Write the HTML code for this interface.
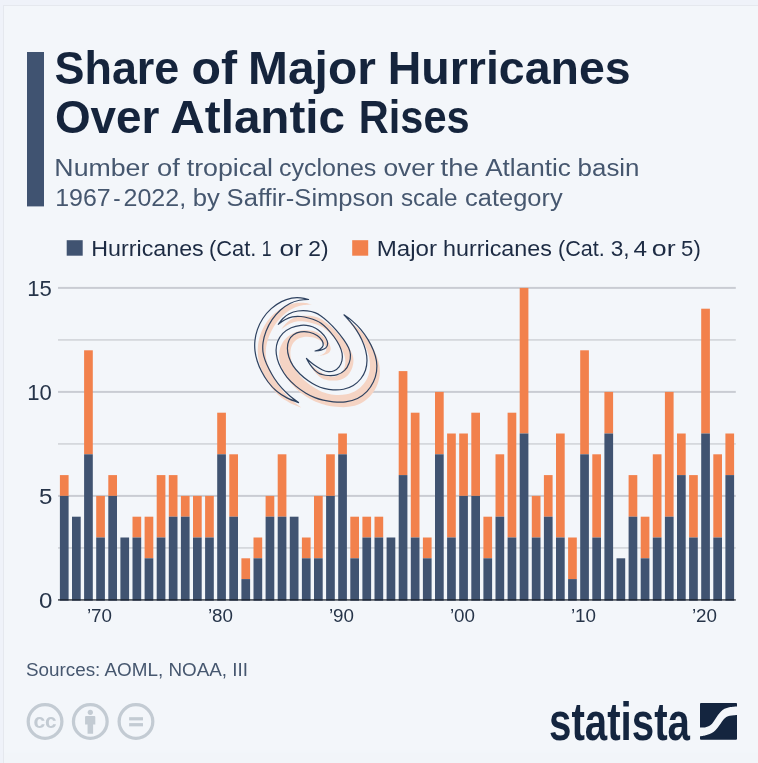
<!DOCTYPE html>
<html><head><meta charset="utf-8"><title>Share of Major Hurricanes Over Atlantic Rises</title>
<style>
html,body{margin:0;padding:0;background:#eff2f9;}
body{width:758px;height:763px;overflow:hidden;font-family:"Liberation Sans",sans-serif;}
svg{display:block;will-change:transform;}
text{font-family:"Liberation Sans",sans-serif;}
</style></head><body>
<svg width="758" height="763" viewBox="0 0 758 763">
<rect x="0" y="0" width="758" height="763" fill="#eff2f9"/>
<rect x="3" y="5" width="755" height="758" fill="#f3f6fa"/>
<rect x="3" y="5" width="755" height="1" fill="#e5e8ee"/>
<rect x="3" y="5" width="1" height="758" fill="#e5e8ee"/>
<rect x="4" y="752.5" width="754" height="10.5" fill="#f2f5f9"/>
<!-- accent bar -->
<rect x="27" y="52" width="17" height="154.4" fill="#405371"/>
<!-- title -->
<g fill="#15243c" font-weight="bold" font-size="45.4">
<text x="54.51" y="83.6" textLength="124.80" lengthAdjust="spacingAndGlyphs">Share</text>
<text x="191.54" y="83.6" textLength="45.55" lengthAdjust="spacingAndGlyphs">of</text>
<text x="248.08" y="83.6" textLength="127.74" lengthAdjust="spacingAndGlyphs">Major</text>
<text x="387.78" y="83.6" textLength="242.91" lengthAdjust="spacingAndGlyphs">Hurricanes</text>
<text x="54.93" y="132.8" textLength="104.56" lengthAdjust="spacingAndGlyphs">Over</text>
<text x="170.39" y="132.8" textLength="174.70" lengthAdjust="spacingAndGlyphs">Atlantic</text>
<text x="358.81" y="132.8" textLength="110.78" lengthAdjust="spacingAndGlyphs">Rises</text>
</g>
<g fill="#46576f" font-size="24.7">
<text x="54.38" y="175.6" textLength="95.00" lengthAdjust="spacingAndGlyphs">Number</text>
<text x="157.04" y="175.6" textLength="22.70" lengthAdjust="spacingAndGlyphs">of</text>
<text x="186.72" y="175.6" textLength="86.34" lengthAdjust="spacingAndGlyphs">tropical</text>
<text x="279.04" y="175.6" textLength="97.27" lengthAdjust="spacingAndGlyphs">cyclones</text>
<text x="383.48" y="175.6" textLength="51.20" lengthAdjust="spacingAndGlyphs">over</text>
<text x="440.61" y="175.6" textLength="38.09" lengthAdjust="spacingAndGlyphs">the</text>
<text x="485.15" y="175.6" textLength="85.74" lengthAdjust="spacingAndGlyphs">Atlantic</text>
<text x="577.62" y="175.6" textLength="61.85" lengthAdjust="spacingAndGlyphs">basin</text>
<text x="55.18" y="206" textLength="55.48" lengthAdjust="spacingAndGlyphs">1967</text>
<text x="113.32" y="206" textLength="7.34" lengthAdjust="spacingAndGlyphs">-</text>
<text x="123.53" y="206" textLength="62.60" lengthAdjust="spacingAndGlyphs">2022,</text>
<text x="192.84" y="206" textLength="27.10" lengthAdjust="spacingAndGlyphs">by</text>
<text x="226.61" y="206" textLength="167.22" lengthAdjust="spacingAndGlyphs">Saffir-Simpson</text>
<text x="401.01" y="206" textLength="56.58" lengthAdjust="spacingAndGlyphs">scale</text>
<text x="465.12" y="206" textLength="97.52" lengthAdjust="spacingAndGlyphs">category</text>
</g>
<!-- legend -->
<rect x="66.7" y="240.2" width="16" height="15.5" fill="#405371"/>
<rect x="352.2" y="240.2" width="16" height="15.5" fill="#f2814c"/>
<g fill="#1d2b43" font-size="22.5">
<text x="91.29" y="255.7" textLength="112.42" lengthAdjust="spacingAndGlyphs">Hurricanes</text>
<text x="209.04" y="255.7" textLength="47.36" lengthAdjust="spacingAndGlyphs">(Cat.</text>
<text x="261.87" y="255.7" textLength="9.80" lengthAdjust="spacingAndGlyphs">1</text>
<text x="279.49" y="255.7" textLength="23.28" lengthAdjust="spacingAndGlyphs">or</text>
<text x="308.23" y="255.7" textLength="20.29" lengthAdjust="spacingAndGlyphs">2)</text>
<text x="376.72" y="255.7" textLength="60.32" lengthAdjust="spacingAndGlyphs">Major</text>
<text x="443.09" y="255.7" textLength="108.84" lengthAdjust="spacingAndGlyphs">hurricanes</text>
<text x="558.06" y="255.7" textLength="46.82" lengthAdjust="spacingAndGlyphs">(Cat.</text>
<text x="610.74" y="255.7" textLength="18.88" lengthAdjust="spacingAndGlyphs">3,</text>
<text x="633.56" y="255.7" textLength="13.56" lengthAdjust="spacingAndGlyphs">4</text>
<text x="651.87" y="255.7" textLength="23.81" lengthAdjust="spacingAndGlyphs">or</text>
<text x="681.12" y="255.7" textLength="19.67" lengthAdjust="spacingAndGlyphs">5)</text>
</g>
<!-- y labels -->
<g fill="#263449" font-size="22.3">
<text x="27.2" y="295.5" textLength="24.6" lengthAdjust="spacingAndGlyphs">15</text>
<text x="27.2" y="399.5" textLength="24.6" lengthAdjust="spacingAndGlyphs">10</text>
<text x="38.9" y="503.5" textLength="13.4" lengthAdjust="spacingAndGlyphs">5</text>
<text x="38.9" y="607.5" textLength="13.4" lengthAdjust="spacingAndGlyphs">0</text>
</g>
<rect x="58" y="547.00" width="677.8" height="1.8" fill="#d5d8dd"/>
<rect x="58" y="494.90" width="677.8" height="2.0" fill="#c9ccd3"/>
<rect x="58" y="443.00" width="677.8" height="1.8" fill="#d5d8dd"/>
<rect x="58" y="390.90" width="677.8" height="2.0" fill="#c9ccd3"/>
<rect x="58" y="339.00" width="677.8" height="1.8" fill="#d5d8dd"/>
<rect x="58" y="286.90" width="677.8" height="2.0" fill="#c9ccd3"/>
<path d="M315.07,351.00C315.07,351.00 319.22,350.64 321.01,350.11C322.80,349.58 324.69,348.93 325.80,347.82C326.91,346.72 327.70,345.16 327.67,343.49C327.65,341.81 326.78,339.64 325.67,337.77C324.56,335.90 322.70,333.86 321.04,332.26C319.37,330.66 317.60,329.24 315.66,328.16C313.71,327.08 311.81,326.26 309.36,325.79C306.91,325.32 303.98,325.04 300.96,325.36C297.94,325.68 294.26,326.37 291.24,327.71C288.22,329.05 285.09,331.10 282.82,333.40C280.56,335.71 278.79,338.71 277.66,341.54C276.53,344.36 276.11,347.43 276.06,350.36C276.01,353.28 276.53,356.12 277.34,359.07C278.16,362.02 279.32,364.99 280.94,368.04C282.56,371.09 284.56,374.33 287.05,377.35C289.54,380.37 292.72,383.52 295.86,386.16C299.01,388.80 302.74,391.28 305.91,393.19C309.08,395.10 312.02,396.47 314.89,397.62C317.76,398.78 320.08,399.45 323.14,400.14C326.19,400.84 329.49,401.51 333.21,401.79C336.94,402.07 341.44,402.37 345.49,401.81C349.53,401.26 353.89,400.20 357.48,398.45C361.07,396.70 364.38,394.12 367.04,391.34C369.71,388.56 371.87,385.10 373.46,381.77C375.05,378.44 376.07,374.82 376.57,371.35C377.07,367.88 376.98,364.45 376.46,360.96C375.94,357.48 374.88,354.01 373.47,350.45C372.06,346.88 370.14,343.11 368.01,339.59C365.89,336.07 363.31,332.41 360.72,329.33C358.13,326.25 355.26,323.52 352.47,321.10C349.68,318.68 343.98,314.80 343.98,314.80L315.07,351.00Z" fill="#f3f6fa" fill-rule="nonzero"/>
<g fill="#f3f6fa"><path d="M308.58,299.50C308.58,299.50 303.49,298.07 300.68,297.84C297.87,297.61 294.91,297.51 291.72,298.14C288.52,298.78 284.92,299.88 281.51,301.63C278.10,303.37 274.36,305.81 271.25,308.62C268.13,311.43 265.12,314.96 262.81,318.47C260.50,321.98 258.69,325.96 257.38,329.66C256.06,333.36 255.34,337.12 254.94,340.66C254.54,344.21 254.61,347.56 254.99,350.94C255.37,354.32 256.12,357.56 257.20,360.95C258.28,364.35 259.69,367.83 261.47,371.30C263.25,374.77 265.38,378.46 267.88,381.75C270.38,385.04 273.28,388.36 276.45,391.05C279.63,393.74 283.25,395.97 286.93,397.89C290.62,399.81 298.55,402.56 298.55,402.56C298.55,402.56 292.72,398.37 289.90,395.94C287.08,393.51 284.21,390.87 281.63,387.96C279.05,385.05 276.55,381.70 274.42,378.50C272.29,375.30 270.43,371.85 268.87,368.78C267.31,365.71 266.04,362.89 265.07,360.08C264.09,357.28 263.32,354.89 262.99,351.96C262.66,349.04 262.57,345.99 263.08,342.53C263.59,339.07 264.54,335.03 266.04,331.22C267.54,327.41 269.68,323.21 272.09,319.67C274.49,316.13 277.51,312.68 280.48,309.97C283.46,307.26 286.79,305.03 289.94,303.41C293.09,301.80 296.30,300.93 299.41,300.28C302.52,299.63 308.58,299.50 308.58,299.50Z"/><path d="M306.46,358.44C306.46,358.44 308.90,362.99 310.26,364.93C311.63,366.86 313.31,368.71 314.65,370.05C316.00,371.39 317.13,372.22 318.32,372.95C319.52,373.67 320.20,373.98 321.81,374.41C323.42,374.84 325.48,375.42 327.96,375.51C330.45,375.60 333.95,375.78 336.73,374.93C339.51,374.08 342.55,372.45 344.63,370.41C346.71,368.37 348.27,365.28 349.24,362.68C350.21,360.09 350.55,357.34 350.45,354.85C350.34,352.37 349.72,350.31 348.59,347.76C347.46,345.21 345.76,342.51 343.68,339.56C341.61,336.61 338.80,333.04 336.16,330.05C333.53,327.06 330.42,323.97 327.89,321.61C325.36,319.26 323.14,317.43 320.97,315.92C318.80,314.41 317.17,313.41 314.87,312.57C312.58,311.72 310.04,311.09 307.21,310.83C304.37,310.57 300.86,310.55 297.87,311.03C294.89,311.50 291.76,312.45 289.28,313.69C286.79,314.93 284.78,316.69 282.95,318.46C281.12,320.22 278.28,324.30 278.28,324.30C278.28,324.30 282.57,321.01 284.92,319.77C287.27,318.52 289.71,317.38 292.39,316.84C295.06,316.30 298.13,316.28 300.97,316.51C303.82,316.75 306.95,317.59 309.46,318.26C311.96,318.92 314.06,319.66 315.99,320.48C317.92,321.30 319.22,321.86 321.04,323.17C322.86,324.48 324.79,326.13 326.92,328.35C329.06,330.58 331.75,333.68 333.83,336.52C335.90,339.37 338.01,342.61 339.39,345.42C340.77,348.23 341.67,350.85 342.10,353.38C342.53,355.91 342.46,358.36 341.96,360.60C341.47,362.84 340.43,365.14 339.12,366.83C337.82,368.51 335.92,369.91 334.13,370.71C332.33,371.51 330.29,371.74 328.36,371.62C326.43,371.50 324.51,370.82 322.55,369.97C320.59,369.13 318.50,367.81 316.58,366.55C314.66,365.29 312.70,363.77 311.02,362.42C309.33,361.07 306.46,358.44 306.46,358.44Z"/><path d="M315.07,351.00C315.07,351.00 319.22,350.64 321.01,350.11C322.80,349.58 324.69,348.93 325.80,347.82C326.91,346.72 327.70,345.16 327.67,343.49C327.65,341.81 326.78,339.64 325.67,337.77C324.56,335.90 322.70,333.86 321.04,332.26C319.37,330.66 317.60,329.24 315.66,328.16C313.71,327.08 311.81,326.26 309.36,325.79C306.91,325.32 303.98,325.04 300.96,325.36C297.94,325.68 294.26,326.37 291.24,327.71C288.22,329.05 285.09,331.10 282.82,333.40C280.56,335.71 278.79,338.71 277.66,341.54C276.53,344.36 276.11,347.43 276.06,350.36C276.01,353.28 276.53,356.12 277.34,359.07C278.16,362.02 279.32,364.99 280.94,368.04C282.56,371.09 284.56,374.33 287.05,377.35C289.54,380.37 292.72,383.52 295.86,386.16C299.01,388.80 302.74,391.28 305.91,393.19C309.08,395.10 312.02,396.47 314.89,397.62C317.76,398.78 320.08,399.45 323.14,400.14C326.19,400.84 329.49,401.51 333.21,401.79C336.94,402.07 341.44,402.37 345.49,401.81C349.53,401.26 353.89,400.20 357.48,398.45C361.07,396.70 364.38,394.12 367.04,391.34C369.71,388.56 371.87,385.10 373.46,381.77C375.05,378.44 376.07,374.82 376.57,371.35C377.07,367.88 376.98,364.45 376.46,360.96C375.94,357.48 374.88,354.01 373.47,350.45C372.06,346.88 370.14,343.11 368.01,339.59C365.89,336.07 363.31,332.41 360.72,329.33C358.13,326.25 355.26,323.52 352.47,321.10C349.68,318.68 343.98,314.80 343.98,314.80C343.98,314.80 348.25,319.38 350.33,321.93C352.40,324.49 354.54,327.17 356.45,330.13C358.36,333.09 360.28,336.37 361.80,339.70C363.32,343.03 364.71,346.64 365.58,350.10C366.44,353.57 367.02,357.14 366.99,360.49C366.97,363.83 366.48,367.14 365.45,370.19C364.42,373.23 362.83,376.20 360.81,378.75C358.78,381.29 356.18,383.70 353.29,385.45C350.41,387.21 346.87,388.51 343.49,389.25C340.10,389.99 336.27,390.04 333.01,389.90C329.75,389.76 326.71,389.15 323.92,388.41C321.12,387.68 318.83,386.78 316.22,385.51C313.61,384.23 310.97,382.67 308.26,380.75C305.55,378.83 302.49,376.46 299.96,373.98C297.44,371.50 294.97,368.68 293.12,365.86C291.27,363.04 289.82,359.99 288.87,357.05C287.92,354.12 287.40,351.01 287.40,348.25C287.40,345.49 287.88,342.73 288.89,340.49C289.90,338.25 291.49,336.24 293.46,334.82C295.43,333.39 298.06,332.37 300.70,331.95C303.34,331.52 306.55,331.67 309.29,332.27C312.03,332.86 314.98,334.15 317.12,335.54C319.26,336.92 321.12,338.91 322.13,340.57C323.13,342.23 323.45,344.10 323.15,345.49C322.85,346.88 321.66,348.01 320.32,348.93C318.97,349.85 315.07,351.00 315.07,351.00Z"/></g>
<g fill="#f5d4c4" transform="translate(3,5)"><path d="M308.58,299.50C308.58,299.50 303.49,298.07 300.68,297.84C297.87,297.61 294.91,297.51 291.72,298.14C288.52,298.78 284.92,299.88 281.51,301.63C278.10,303.37 274.36,305.81 271.25,308.62C268.13,311.43 265.12,314.96 262.81,318.47C260.50,321.98 258.69,325.96 257.38,329.66C256.06,333.36 255.34,337.12 254.94,340.66C254.54,344.21 254.61,347.56 254.99,350.94C255.37,354.32 256.12,357.56 257.20,360.95C258.28,364.35 259.69,367.83 261.47,371.30C263.25,374.77 265.38,378.46 267.88,381.75C270.38,385.04 273.28,388.36 276.45,391.05C279.63,393.74 283.25,395.97 286.93,397.89C290.62,399.81 298.55,402.56 298.55,402.56C298.55,402.56 292.72,398.37 289.90,395.94C287.08,393.51 284.21,390.87 281.63,387.96C279.05,385.05 276.55,381.70 274.42,378.50C272.29,375.30 270.43,371.85 268.87,368.78C267.31,365.71 266.04,362.89 265.07,360.08C264.09,357.28 263.32,354.89 262.99,351.96C262.66,349.04 262.57,345.99 263.08,342.53C263.59,339.07 264.54,335.03 266.04,331.22C267.54,327.41 269.68,323.21 272.09,319.67C274.49,316.13 277.51,312.68 280.48,309.97C283.46,307.26 286.79,305.03 289.94,303.41C293.09,301.80 296.30,300.93 299.41,300.28C302.52,299.63 308.58,299.50 308.58,299.50Z"/><path d="M306.46,358.44C306.46,358.44 308.90,362.99 310.26,364.93C311.63,366.86 313.31,368.71 314.65,370.05C316.00,371.39 317.13,372.22 318.32,372.95C319.52,373.67 320.20,373.98 321.81,374.41C323.42,374.84 325.48,375.42 327.96,375.51C330.45,375.60 333.95,375.78 336.73,374.93C339.51,374.08 342.55,372.45 344.63,370.41C346.71,368.37 348.27,365.28 349.24,362.68C350.21,360.09 350.55,357.34 350.45,354.85C350.34,352.37 349.72,350.31 348.59,347.76C347.46,345.21 345.76,342.51 343.68,339.56C341.61,336.61 338.80,333.04 336.16,330.05C333.53,327.06 330.42,323.97 327.89,321.61C325.36,319.26 323.14,317.43 320.97,315.92C318.80,314.41 317.17,313.41 314.87,312.57C312.58,311.72 310.04,311.09 307.21,310.83C304.37,310.57 300.86,310.55 297.87,311.03C294.89,311.50 291.76,312.45 289.28,313.69C286.79,314.93 284.78,316.69 282.95,318.46C281.12,320.22 278.28,324.30 278.28,324.30C278.28,324.30 282.57,321.01 284.92,319.77C287.27,318.52 289.71,317.38 292.39,316.84C295.06,316.30 298.13,316.28 300.97,316.51C303.82,316.75 306.95,317.59 309.46,318.26C311.96,318.92 314.06,319.66 315.99,320.48C317.92,321.30 319.22,321.86 321.04,323.17C322.86,324.48 324.79,326.13 326.92,328.35C329.06,330.58 331.75,333.68 333.83,336.52C335.90,339.37 338.01,342.61 339.39,345.42C340.77,348.23 341.67,350.85 342.10,353.38C342.53,355.91 342.46,358.36 341.96,360.60C341.47,362.84 340.43,365.14 339.12,366.83C337.82,368.51 335.92,369.91 334.13,370.71C332.33,371.51 330.29,371.74 328.36,371.62C326.43,371.50 324.51,370.82 322.55,369.97C320.59,369.13 318.50,367.81 316.58,366.55C314.66,365.29 312.70,363.77 311.02,362.42C309.33,361.07 306.46,358.44 306.46,358.44Z"/><path d="M315.07,351.00C315.07,351.00 319.22,350.64 321.01,350.11C322.80,349.58 324.69,348.93 325.80,347.82C326.91,346.72 327.70,345.16 327.67,343.49C327.65,341.81 326.78,339.64 325.67,337.77C324.56,335.90 322.70,333.86 321.04,332.26C319.37,330.66 317.60,329.24 315.66,328.16C313.71,327.08 311.81,326.26 309.36,325.79C306.91,325.32 303.98,325.04 300.96,325.36C297.94,325.68 294.26,326.37 291.24,327.71C288.22,329.05 285.09,331.10 282.82,333.40C280.56,335.71 278.79,338.71 277.66,341.54C276.53,344.36 276.11,347.43 276.06,350.36C276.01,353.28 276.53,356.12 277.34,359.07C278.16,362.02 279.32,364.99 280.94,368.04C282.56,371.09 284.56,374.33 287.05,377.35C289.54,380.37 292.72,383.52 295.86,386.16C299.01,388.80 302.74,391.28 305.91,393.19C309.08,395.10 312.02,396.47 314.89,397.62C317.76,398.78 320.08,399.45 323.14,400.14C326.19,400.84 329.49,401.51 333.21,401.79C336.94,402.07 341.44,402.37 345.49,401.81C349.53,401.26 353.89,400.20 357.48,398.45C361.07,396.70 364.38,394.12 367.04,391.34C369.71,388.56 371.87,385.10 373.46,381.77C375.05,378.44 376.07,374.82 376.57,371.35C377.07,367.88 376.98,364.45 376.46,360.96C375.94,357.48 374.88,354.01 373.47,350.45C372.06,346.88 370.14,343.11 368.01,339.59C365.89,336.07 363.31,332.41 360.72,329.33C358.13,326.25 355.26,323.52 352.47,321.10C349.68,318.68 343.98,314.80 343.98,314.80C343.98,314.80 348.25,319.38 350.33,321.93C352.40,324.49 354.54,327.17 356.45,330.13C358.36,333.09 360.28,336.37 361.80,339.70C363.32,343.03 364.71,346.64 365.58,350.10C366.44,353.57 367.02,357.14 366.99,360.49C366.97,363.83 366.48,367.14 365.45,370.19C364.42,373.23 362.83,376.20 360.81,378.75C358.78,381.29 356.18,383.70 353.29,385.45C350.41,387.21 346.87,388.51 343.49,389.25C340.10,389.99 336.27,390.04 333.01,389.90C329.75,389.76 326.71,389.15 323.92,388.41C321.12,387.68 318.83,386.78 316.22,385.51C313.61,384.23 310.97,382.67 308.26,380.75C305.55,378.83 302.49,376.46 299.96,373.98C297.44,371.50 294.97,368.68 293.12,365.86C291.27,363.04 289.82,359.99 288.87,357.05C287.92,354.12 287.40,351.01 287.40,348.25C287.40,345.49 287.88,342.73 288.89,340.49C289.90,338.25 291.49,336.24 293.46,334.82C295.43,333.39 298.06,332.37 300.70,331.95C303.34,331.52 306.55,331.67 309.29,332.27C312.03,332.86 314.98,334.15 317.12,335.54C319.26,336.92 321.12,338.91 322.13,340.57C323.13,342.23 323.45,344.10 323.15,345.49C322.85,346.88 321.66,348.01 320.32,348.93C318.97,349.85 315.07,351.00 315.07,351.00Z"/></g>
<g fill="none" stroke="#2e4260" stroke-width="1.2" stroke-linejoin="round"><path d="M308.58,299.50C308.58,299.50 303.49,298.07 300.68,297.84C297.87,297.61 294.91,297.51 291.72,298.14C288.52,298.78 284.92,299.88 281.51,301.63C278.10,303.37 274.36,305.81 271.25,308.62C268.13,311.43 265.12,314.96 262.81,318.47C260.50,321.98 258.69,325.96 257.38,329.66C256.06,333.36 255.34,337.12 254.94,340.66C254.54,344.21 254.61,347.56 254.99,350.94C255.37,354.32 256.12,357.56 257.20,360.95C258.28,364.35 259.69,367.83 261.47,371.30C263.25,374.77 265.38,378.46 267.88,381.75C270.38,385.04 273.28,388.36 276.45,391.05C279.63,393.74 283.25,395.97 286.93,397.89C290.62,399.81 298.55,402.56 298.55,402.56C298.55,402.56 292.72,398.37 289.90,395.94C287.08,393.51 284.21,390.87 281.63,387.96C279.05,385.05 276.55,381.70 274.42,378.50C272.29,375.30 270.43,371.85 268.87,368.78C267.31,365.71 266.04,362.89 265.07,360.08C264.09,357.28 263.32,354.89 262.99,351.96C262.66,349.04 262.57,345.99 263.08,342.53C263.59,339.07 264.54,335.03 266.04,331.22C267.54,327.41 269.68,323.21 272.09,319.67C274.49,316.13 277.51,312.68 280.48,309.97C283.46,307.26 286.79,305.03 289.94,303.41C293.09,301.80 296.30,300.93 299.41,300.28C302.52,299.63 308.58,299.50 308.58,299.50Z"/><path d="M306.46,358.44C306.46,358.44 308.90,362.99 310.26,364.93C311.63,366.86 313.31,368.71 314.65,370.05C316.00,371.39 317.13,372.22 318.32,372.95C319.52,373.67 320.20,373.98 321.81,374.41C323.42,374.84 325.48,375.42 327.96,375.51C330.45,375.60 333.95,375.78 336.73,374.93C339.51,374.08 342.55,372.45 344.63,370.41C346.71,368.37 348.27,365.28 349.24,362.68C350.21,360.09 350.55,357.34 350.45,354.85C350.34,352.37 349.72,350.31 348.59,347.76C347.46,345.21 345.76,342.51 343.68,339.56C341.61,336.61 338.80,333.04 336.16,330.05C333.53,327.06 330.42,323.97 327.89,321.61C325.36,319.26 323.14,317.43 320.97,315.92C318.80,314.41 317.17,313.41 314.87,312.57C312.58,311.72 310.04,311.09 307.21,310.83C304.37,310.57 300.86,310.55 297.87,311.03C294.89,311.50 291.76,312.45 289.28,313.69C286.79,314.93 284.78,316.69 282.95,318.46C281.12,320.22 278.28,324.30 278.28,324.30C278.28,324.30 282.57,321.01 284.92,319.77C287.27,318.52 289.71,317.38 292.39,316.84C295.06,316.30 298.13,316.28 300.97,316.51C303.82,316.75 306.95,317.59 309.46,318.26C311.96,318.92 314.06,319.66 315.99,320.48C317.92,321.30 319.22,321.86 321.04,323.17C322.86,324.48 324.79,326.13 326.92,328.35C329.06,330.58 331.75,333.68 333.83,336.52C335.90,339.37 338.01,342.61 339.39,345.42C340.77,348.23 341.67,350.85 342.10,353.38C342.53,355.91 342.46,358.36 341.96,360.60C341.47,362.84 340.43,365.14 339.12,366.83C337.82,368.51 335.92,369.91 334.13,370.71C332.33,371.51 330.29,371.74 328.36,371.62C326.43,371.50 324.51,370.82 322.55,369.97C320.59,369.13 318.50,367.81 316.58,366.55C314.66,365.29 312.70,363.77 311.02,362.42C309.33,361.07 306.46,358.44 306.46,358.44Z"/><path d="M315.07,351.00C315.07,351.00 319.22,350.64 321.01,350.11C322.80,349.58 324.69,348.93 325.80,347.82C326.91,346.72 327.70,345.16 327.67,343.49C327.65,341.81 326.78,339.64 325.67,337.77C324.56,335.90 322.70,333.86 321.04,332.26C319.37,330.66 317.60,329.24 315.66,328.16C313.71,327.08 311.81,326.26 309.36,325.79C306.91,325.32 303.98,325.04 300.96,325.36C297.94,325.68 294.26,326.37 291.24,327.71C288.22,329.05 285.09,331.10 282.82,333.40C280.56,335.71 278.79,338.71 277.66,341.54C276.53,344.36 276.11,347.43 276.06,350.36C276.01,353.28 276.53,356.12 277.34,359.07C278.16,362.02 279.32,364.99 280.94,368.04C282.56,371.09 284.56,374.33 287.05,377.35C289.54,380.37 292.72,383.52 295.86,386.16C299.01,388.80 302.74,391.28 305.91,393.19C309.08,395.10 312.02,396.47 314.89,397.62C317.76,398.78 320.08,399.45 323.14,400.14C326.19,400.84 329.49,401.51 333.21,401.79C336.94,402.07 341.44,402.37 345.49,401.81C349.53,401.26 353.89,400.20 357.48,398.45C361.07,396.70 364.38,394.12 367.04,391.34C369.71,388.56 371.87,385.10 373.46,381.77C375.05,378.44 376.07,374.82 376.57,371.35C377.07,367.88 376.98,364.45 376.46,360.96C375.94,357.48 374.88,354.01 373.47,350.45C372.06,346.88 370.14,343.11 368.01,339.59C365.89,336.07 363.31,332.41 360.72,329.33C358.13,326.25 355.26,323.52 352.47,321.10C349.68,318.68 343.98,314.80 343.98,314.80C343.98,314.80 348.25,319.38 350.33,321.93C352.40,324.49 354.54,327.17 356.45,330.13C358.36,333.09 360.28,336.37 361.80,339.70C363.32,343.03 364.71,346.64 365.58,350.10C366.44,353.57 367.02,357.14 366.99,360.49C366.97,363.83 366.48,367.14 365.45,370.19C364.42,373.23 362.83,376.20 360.81,378.75C358.78,381.29 356.18,383.70 353.29,385.45C350.41,387.21 346.87,388.51 343.49,389.25C340.10,389.99 336.27,390.04 333.01,389.90C329.75,389.76 326.71,389.15 323.92,388.41C321.12,387.68 318.83,386.78 316.22,385.51C313.61,384.23 310.97,382.67 308.26,380.75C305.55,378.83 302.49,376.46 299.96,373.98C297.44,371.50 294.97,368.68 293.12,365.86C291.27,363.04 289.82,359.99 288.87,357.05C287.92,354.12 287.40,351.01 287.40,348.25C287.40,345.49 287.88,342.73 288.89,340.49C289.90,338.25 291.49,336.24 293.46,334.82C295.43,333.39 298.06,332.37 300.70,331.95C303.34,331.52 306.55,331.67 309.29,332.27C312.03,332.86 314.98,334.15 317.12,335.54C319.26,336.92 321.12,338.91 322.13,340.57C323.13,342.23 323.45,344.10 323.15,345.49C322.85,346.88 321.66,348.01 320.32,348.93C318.97,349.85 315.07,351.00 315.07,351.00Z"/></g>
<rect x="59.90" y="475.10" width="8.7" height="20.80" fill="#f2814c"/>
<rect x="59.90" y="495.90" width="8.7" height="104.80" fill="#405371"/>
<rect x="72.00" y="516.70" width="8.7" height="84.00" fill="#405371"/>
<rect x="84.10" y="350.30" width="8.7" height="104.00" fill="#f2814c"/>
<rect x="84.10" y="454.30" width="8.7" height="146.40" fill="#405371"/>
<rect x="96.20" y="495.90" width="8.7" height="41.60" fill="#f2814c"/>
<rect x="96.20" y="537.50" width="8.7" height="63.20" fill="#405371"/>
<rect x="108.30" y="475.10" width="8.7" height="20.80" fill="#f2814c"/>
<rect x="108.30" y="495.90" width="8.7" height="104.80" fill="#405371"/>
<rect x="120.40" y="537.50" width="8.7" height="63.20" fill="#405371"/>
<rect x="132.50" y="516.70" width="8.7" height="20.80" fill="#f2814c"/>
<rect x="132.50" y="537.50" width="8.7" height="63.20" fill="#405371"/>
<rect x="144.60" y="516.70" width="8.7" height="41.60" fill="#f2814c"/>
<rect x="144.60" y="558.30" width="8.7" height="42.40" fill="#405371"/>
<rect x="156.70" y="475.10" width="8.7" height="62.40" fill="#f2814c"/>
<rect x="156.70" y="537.50" width="8.7" height="63.20" fill="#405371"/>
<rect x="168.80" y="475.10" width="8.7" height="41.60" fill="#f2814c"/>
<rect x="168.80" y="516.70" width="8.7" height="84.00" fill="#405371"/>
<rect x="180.90" y="495.90" width="8.7" height="20.80" fill="#f2814c"/>
<rect x="180.90" y="516.70" width="8.7" height="84.00" fill="#405371"/>
<rect x="193.00" y="495.90" width="8.7" height="41.60" fill="#f2814c"/>
<rect x="193.00" y="537.50" width="8.7" height="63.20" fill="#405371"/>
<rect x="205.10" y="495.90" width="8.7" height="41.60" fill="#f2814c"/>
<rect x="205.10" y="537.50" width="8.7" height="63.20" fill="#405371"/>
<rect x="217.20" y="412.70" width="8.7" height="41.60" fill="#f2814c"/>
<rect x="217.20" y="454.30" width="8.7" height="146.40" fill="#405371"/>
<rect x="229.30" y="454.30" width="8.7" height="62.40" fill="#f2814c"/>
<rect x="229.30" y="516.70" width="8.7" height="84.00" fill="#405371"/>
<rect x="241.40" y="558.30" width="8.7" height="20.80" fill="#f2814c"/>
<rect x="241.40" y="579.10" width="8.7" height="21.60" fill="#405371"/>
<rect x="253.50" y="537.50" width="8.7" height="20.80" fill="#f2814c"/>
<rect x="253.50" y="558.30" width="8.7" height="42.40" fill="#405371"/>
<rect x="265.60" y="495.90" width="8.7" height="20.80" fill="#f2814c"/>
<rect x="265.60" y="516.70" width="8.7" height="84.00" fill="#405371"/>
<rect x="277.70" y="454.30" width="8.7" height="62.40" fill="#f2814c"/>
<rect x="277.70" y="516.70" width="8.7" height="84.00" fill="#405371"/>
<rect x="289.80" y="516.70" width="8.7" height="84.00" fill="#405371"/>
<rect x="301.90" y="537.50" width="8.7" height="20.80" fill="#f2814c"/>
<rect x="301.90" y="558.30" width="8.7" height="42.40" fill="#405371"/>
<rect x="314.00" y="495.90" width="8.7" height="62.40" fill="#f2814c"/>
<rect x="314.00" y="558.30" width="8.7" height="42.40" fill="#405371"/>
<rect x="326.10" y="454.30" width="8.7" height="41.60" fill="#f2814c"/>
<rect x="326.10" y="495.90" width="8.7" height="104.80" fill="#405371"/>
<rect x="338.20" y="433.50" width="8.7" height="20.80" fill="#f2814c"/>
<rect x="338.20" y="454.30" width="8.7" height="146.40" fill="#405371"/>
<rect x="350.30" y="516.70" width="8.7" height="41.60" fill="#f2814c"/>
<rect x="350.30" y="558.30" width="8.7" height="42.40" fill="#405371"/>
<rect x="362.40" y="516.70" width="8.7" height="20.80" fill="#f2814c"/>
<rect x="362.40" y="537.50" width="8.7" height="63.20" fill="#405371"/>
<rect x="374.50" y="516.70" width="8.7" height="20.80" fill="#f2814c"/>
<rect x="374.50" y="537.50" width="8.7" height="63.20" fill="#405371"/>
<rect x="386.60" y="537.50" width="8.7" height="63.20" fill="#405371"/>
<rect x="398.70" y="371.10" width="8.7" height="104.00" fill="#f2814c"/>
<rect x="398.70" y="475.10" width="8.7" height="125.60" fill="#405371"/>
<rect x="410.80" y="412.70" width="8.7" height="124.80" fill="#f2814c"/>
<rect x="410.80" y="537.50" width="8.7" height="63.20" fill="#405371"/>
<rect x="422.90" y="537.50" width="8.7" height="20.80" fill="#f2814c"/>
<rect x="422.90" y="558.30" width="8.7" height="42.40" fill="#405371"/>
<rect x="435.00" y="391.90" width="8.7" height="62.40" fill="#f2814c"/>
<rect x="435.00" y="454.30" width="8.7" height="146.40" fill="#405371"/>
<rect x="447.10" y="433.50" width="8.7" height="104.00" fill="#f2814c"/>
<rect x="447.10" y="537.50" width="8.7" height="63.20" fill="#405371"/>
<rect x="459.20" y="433.50" width="8.7" height="62.40" fill="#f2814c"/>
<rect x="459.20" y="495.90" width="8.7" height="104.80" fill="#405371"/>
<rect x="471.30" y="412.70" width="8.7" height="83.20" fill="#f2814c"/>
<rect x="471.30" y="495.90" width="8.7" height="104.80" fill="#405371"/>
<rect x="483.40" y="516.70" width="8.7" height="41.60" fill="#f2814c"/>
<rect x="483.40" y="558.30" width="8.7" height="42.40" fill="#405371"/>
<rect x="495.50" y="454.30" width="8.7" height="62.40" fill="#f2814c"/>
<rect x="495.50" y="516.70" width="8.7" height="84.00" fill="#405371"/>
<rect x="507.60" y="412.70" width="8.7" height="124.80" fill="#f2814c"/>
<rect x="507.60" y="537.50" width="8.7" height="63.20" fill="#405371"/>
<rect x="519.70" y="287.90" width="8.7" height="145.60" fill="#f2814c"/>
<rect x="519.70" y="433.50" width="8.7" height="167.20" fill="#405371"/>
<rect x="531.80" y="495.90" width="8.7" height="41.60" fill="#f2814c"/>
<rect x="531.80" y="537.50" width="8.7" height="63.20" fill="#405371"/>
<rect x="543.90" y="475.10" width="8.7" height="41.60" fill="#f2814c"/>
<rect x="543.90" y="516.70" width="8.7" height="84.00" fill="#405371"/>
<rect x="556.00" y="433.50" width="8.7" height="104.00" fill="#f2814c"/>
<rect x="556.00" y="537.50" width="8.7" height="63.20" fill="#405371"/>
<rect x="568.10" y="537.50" width="8.7" height="41.60" fill="#f2814c"/>
<rect x="568.10" y="579.10" width="8.7" height="21.60" fill="#405371"/>
<rect x="580.20" y="350.30" width="8.7" height="104.00" fill="#f2814c"/>
<rect x="580.20" y="454.30" width="8.7" height="146.40" fill="#405371"/>
<rect x="592.30" y="454.30" width="8.7" height="83.20" fill="#f2814c"/>
<rect x="592.30" y="537.50" width="8.7" height="63.20" fill="#405371"/>
<rect x="604.40" y="391.90" width="8.7" height="41.60" fill="#f2814c"/>
<rect x="604.40" y="433.50" width="8.7" height="167.20" fill="#405371"/>
<rect x="616.50" y="558.30" width="8.7" height="42.40" fill="#405371"/>
<rect x="628.60" y="475.10" width="8.7" height="41.60" fill="#f2814c"/>
<rect x="628.60" y="516.70" width="8.7" height="84.00" fill="#405371"/>
<rect x="640.70" y="516.70" width="8.7" height="41.60" fill="#f2814c"/>
<rect x="640.70" y="558.30" width="8.7" height="42.40" fill="#405371"/>
<rect x="652.80" y="454.30" width="8.7" height="83.20" fill="#f2814c"/>
<rect x="652.80" y="537.50" width="8.7" height="63.20" fill="#405371"/>
<rect x="664.90" y="391.90" width="8.7" height="124.80" fill="#f2814c"/>
<rect x="664.90" y="516.70" width="8.7" height="84.00" fill="#405371"/>
<rect x="677.00" y="433.50" width="8.7" height="41.60" fill="#f2814c"/>
<rect x="677.00" y="475.10" width="8.7" height="125.60" fill="#405371"/>
<rect x="689.10" y="475.10" width="8.7" height="62.40" fill="#f2814c"/>
<rect x="689.10" y="537.50" width="8.7" height="63.20" fill="#405371"/>
<rect x="701.20" y="308.70" width="8.7" height="124.80" fill="#f2814c"/>
<rect x="701.20" y="433.50" width="8.7" height="167.20" fill="#405371"/>
<rect x="713.30" y="454.30" width="8.7" height="83.20" fill="#f2814c"/>
<rect x="713.30" y="537.50" width="8.7" height="63.20" fill="#405371"/>
<rect x="725.40" y="433.50" width="8.7" height="41.60" fill="#f2814c"/>
<rect x="725.40" y="475.10" width="8.7" height="125.60" fill="#405371"/>
<!-- axis -->
<rect x="58" y="599.05" width="677.8" height="1.7" fill="rgba(20,25,35,0.7)"/>
<!-- x labels -->
<g fill="#263449" font-size="18.7"><text x="86.9" y="622" textLength="25.1" lengthAdjust="spacingAndGlyphs">’70</text><text x="207.9" y="622" textLength="25.09" lengthAdjust="spacingAndGlyphs">’80</text><text x="328.9" y="622" textLength="25.1" lengthAdjust="spacingAndGlyphs">’90</text><text x="449.9" y="622" textLength="25.09" lengthAdjust="spacingAndGlyphs">’00</text><text x="570.9" y="622" textLength="25.12" lengthAdjust="spacingAndGlyphs">’10</text><text x="691.9" y="622" textLength="25.1" lengthAdjust="spacingAndGlyphs">’20</text></g>
<!-- sources -->
<text x="26" y="675.6" font-size="18.7" fill="#46576f" textLength="222" lengthAdjust="spacingAndGlyphs">Sources: AOML, NOAA, III</text>
<g fill="none" stroke="#c3cbd3" stroke-width="3.25">
<circle cx="45.05" cy="721.5" r="16.85"/>
<circle cx="90.3" cy="721.5" r="16.85"/>
<circle cx="135.97" cy="721.5" r="16.85"/>
</g>
<g fill="#c3cbd3" font-weight="bold" font-size="19.6" font-family="Liberation Sans">
<text x="33.59" y="727.6" textLength="11.76" lengthAdjust="spacingAndGlyphs">c</text>
<text x="45.01" y="727.6" textLength="11.53" lengthAdjust="spacingAndGlyphs">c</text>
</g>
<g fill="#c3cbd3"><circle cx="90.33" cy="712.36" r="2.6"/><path d="M85.07,716.9Q85.07,715.96 86,715.96H94.4Q95.3,715.96 95.3,716.9V724.55H93.1V733.7H87.56V724.55H85.07Z"/>
<rect x="129.13" y="717.18" width="13.85" height="3.2"/><rect x="129.13" y="723.1" width="13.85" height="3.25"/></g>
<text x="549" y="739.5" font-size="54" font-weight="bold" fill="#14253f" textLength="141" lengthAdjust="spacingAndGlyphs">statista</text>
<g fill="#14253f">
<path d="M701,702.9H736.2Q737,702.9 737,703.7V706.60C737.00,706.60 735.30,706.62 734.00,706.72C732.71,706.82 730.84,706.85 729.25,707.19C727.67,707.54 725.89,708.09 724.50,708.80C723.12,709.51 722.03,710.43 720.94,711.47C719.85,712.51 718.96,713.70 717.97,715.03C716.98,716.37 715.99,718.05 715.00,719.49C714.01,720.92 713.02,722.56 712.03,723.64C711.04,724.73 710.25,725.40 709.06,726.02C707.88,726.64 706.42,727.12 704.91,727.38C703.40,727.65 700.00,727.62 700.00,727.62V703.9Q700,702.9 701,702.9Z"/>
<path d="M700,736.29C700.00,736.29 703.30,735.90 704.91,735.52C706.52,735.14 708.17,734.68 709.66,734.04C711.14,733.39 712.53,732.65 713.81,731.66C715.10,730.67 716.29,729.38 717.38,728.10C718.47,726.81 719.36,725.33 720.35,723.94C721.34,722.56 722.33,720.92 723.32,719.78C724.31,718.65 725.20,717.78 726.29,717.11C727.37,716.44 728.56,716.07 729.85,715.75C731.13,715.42 732.81,715.29 734.00,715.15C735.20,715.01 737.00,714.91 737.00,714.91V738.8Q737,739.8 736,739.8H701Q700,739.8 700,738.8Z"/>
</g>
</svg>
</body></html>
